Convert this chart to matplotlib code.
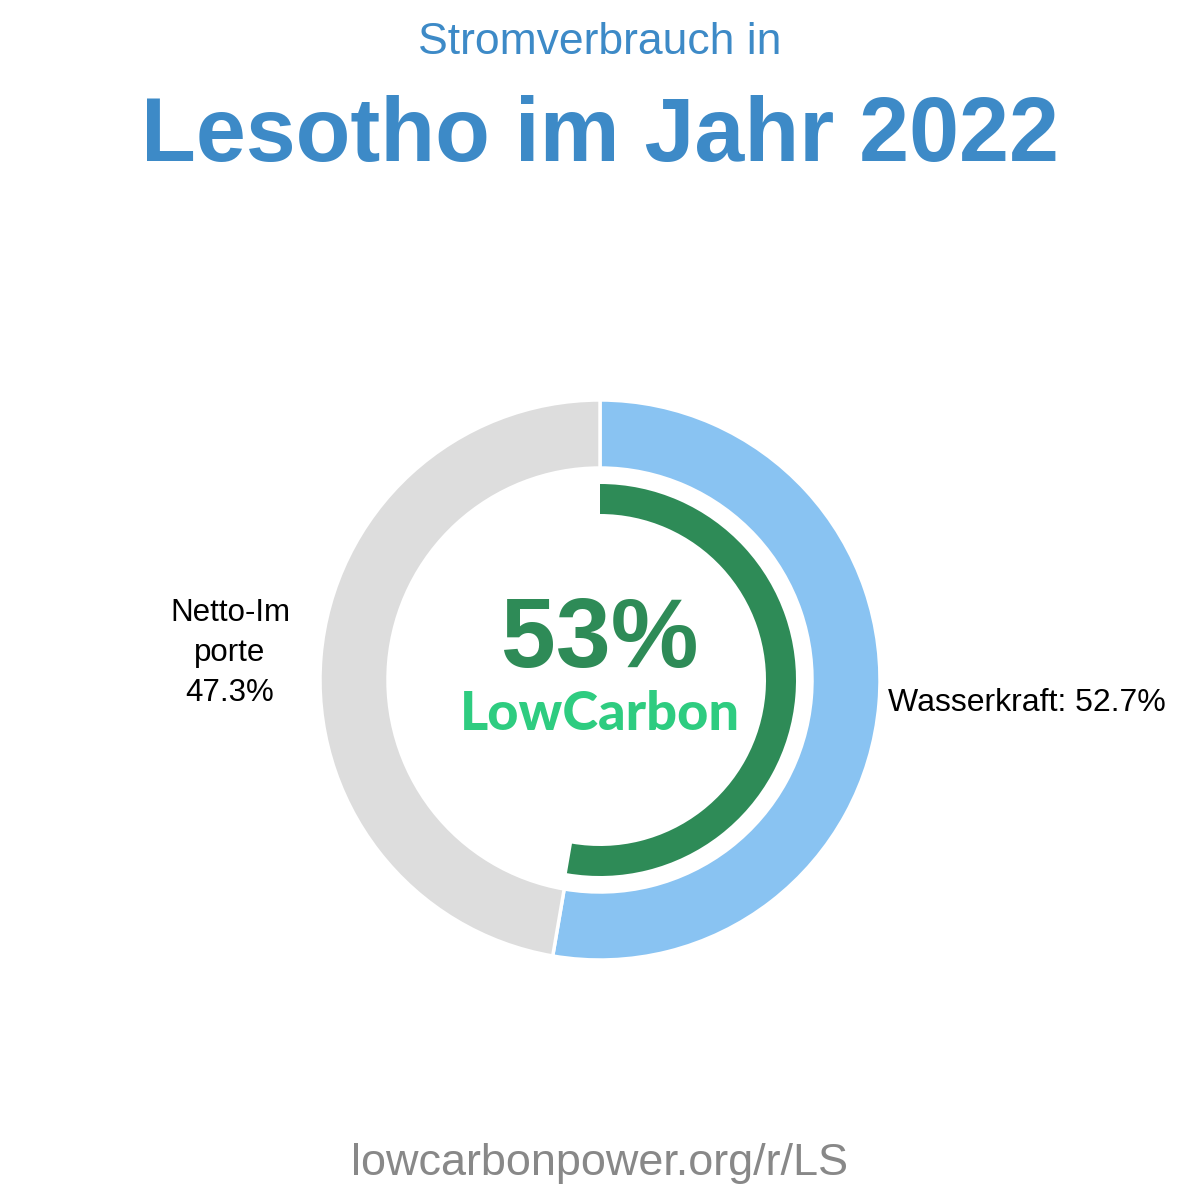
import matplotlib.pyplot as plt
from matplotlib.patches import Wedge

plt.rcParams['font.family'] = ['Liberation Sans', 'DejaVu Sans']

# data
sources = ["Wasserkraft", "Netto-Importe"]
shares = [52.7, 47.3]
low_carbon = 53
label_texts = ["Wasserkraft: 52.7%", "Netto-Im\nporte\n47.3%"]
colors = ["#89c3f2", "#dddddd"]

fig = plt.figure(figsize=(12, 12), dpi=100)
ax = fig.add_axes([0, 0, 1, 1])

cx, cy = 600, 520

# outer ring
ax.pie(shares, colors=colors, startangle=90, counterclock=False,
       center=(cx, cy), radius=280, frame=True,
       wedgeprops=dict(width=68, edgecolor="white", linewidth=2.5))
ax.set_xlim(0, 1200)
ax.set_ylim(0, 1200)
ax.set_aspect("equal")
ax.axis("off")

# inner low-carbon arc
arc = Wedge((cx, cy), 196, 90 - shares[0] / 100 * 360, 90, width=30,
            facecolor="#2e8b57", edgecolor="none")
ax.add_patch(arc)

# labels
ax.text(888, 497, label_texts[0], ha="left", va="center", fontsize=23, color="black")
ax.text(230, 547, label_texts[1], ha="center", va="center", fontsize=22.5,
        color="black", linespacing=1.45)

# centre text
ax.text(cx, 559, f"{low_carbon}%", ha="center", va="center", fontsize=71,
        fontweight="bold", color="#2e8b57")
ax.text(cx, 486, "LowCarbon", ha="center", va="center", fontsize=39,
        fontweight=900, color="#2ecc80", family=["Lato", "DejaVu Sans"])

# titles
fig.text(0.5, 1 - 43 / 1200, "Stromverbrauch in", ha="center", va="center",
         fontsize=32, color="#3d8ac7")
fig.text(0.5, 1 - 137 / 1200, "Lesotho im Jahr 2022", ha="center", va="center",
         fontsize=64.6, fontweight="bold", color="#3d8ac7")
fig.text(0.5, 1 - 1164 / 1200, "lowcarbonpower.org/r/LS", ha="center", va="center",
         fontsize=32.4, color="#888888")

fig.savefig("out.png", dpi=100, facecolor="white")
